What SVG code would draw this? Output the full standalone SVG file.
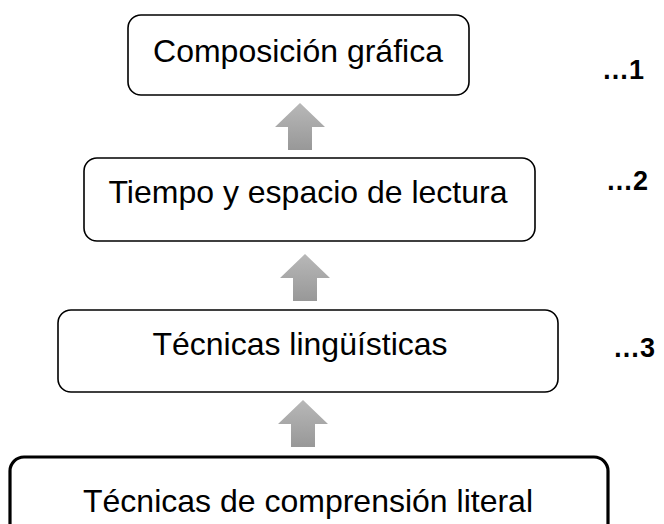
<svg xmlns="http://www.w3.org/2000/svg" xmlns:xlink="http://www.w3.org/1999/xlink" width="664" height="524" viewBox="0 0 664 524">
  <style>
    .box { fill: #ffffff; stroke: #000000; stroke-width: 1.6; }
    .box-thick { fill: #ffffff; stroke: #000000; stroke-width: 3.2; }
    .label { font-family: "Liberation Sans", Arial, sans-serif; font-size: 32px; fill: #000000; text-anchor: middle; }
    .level { font-family: "Liberation Sans", Arial, sans-serif; font-size: 27px; font-weight: bold; fill: #000000; }
    .arrow { fill: url(#arrowGrad); }
  </style>
  <defs>
    <linearGradient id="arrowGrad" x1="0" y1="0" x2="0" y2="1">
      <stop offset="0" stop-color="#b8b8b8"/>
      <stop offset="1" stop-color="#989898"/>
    </linearGradient>
    <path id="upArrow" class="arrow" d="M0,0 L25,24 L12,24 L12,47 L-12,47 L-12,24 L-25,24 Z"/>
  </defs>

  <g id="connectors">
    <use xlink:href="#upArrow" x="300" y="103"/>
    <use xlink:href="#upArrow" x="305" y="254"/>
    <use xlink:href="#upArrow" x="303" y="400"/>
  </g>

  <g id="node-composicion">
    <rect class="box" x="128" y="15" width="341" height="80" rx="13" ry="13"/>
    <text class="label" x="298" y="62">Composición gráfica</text>
  </g>

  <g id="node-tiempo">
    <rect class="box" x="84" y="158" width="451" height="83" rx="13" ry="13"/>
    <text class="label" x="308" y="203">Tiempo y espacio de lectura</text>
  </g>

  <g id="node-linguisticas">
    <rect class="box" x="58" y="310" width="500" height="82" rx="13" ry="13"/>
    <text class="label" x="300" y="355">Técnicas lingüísticas</text>
  </g>

  <g id="node-literal">
    <rect class="box-thick" x="10" y="457" width="598" height="90" rx="14" ry="14"/>
    <text class="label" x="308" y="512">Técnicas de comprensión literal</text>
  </g>

  <g id="levels">
    <text class="level" x="602" y="79">…1</text>
    <text class="level" x="606" y="190">…2</text>
    <text class="level" x="613" y="357">…3</text>
  </g>
</svg>
